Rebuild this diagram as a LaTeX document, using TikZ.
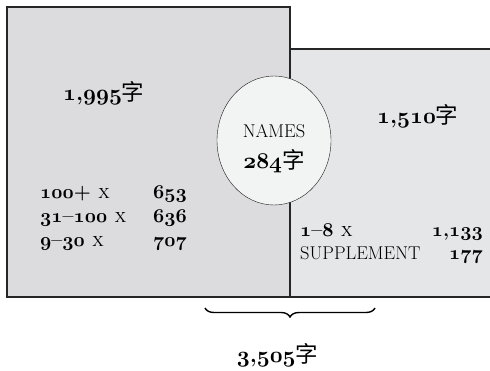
\RequirePackage{fix-cm}
\documentclass[tikz,border=0pt]{standalone}
\usepackage{fontspec}
\newfontfamily\cjk{Noto Sans CJK SC}
\usetikzlibrary{shapes.geometric, decorations.pathreplacing}
\definecolor{commongray}{RGB}{220,220,222}
\definecolor{restgray}{RGB}{229,230,232}
\definecolor{namesgray}{RGB}{242,243,243}
\newcommand\osf[1]{{\usefont{OML}{cmm}{b}{it}#1}}
\newcommand\zi{{\cjk\mdseries 字}}
\newcommand\smcp[1]{{\mdseries\scshape #1}}
\newcommand\caps[1]{{\mdseries\fontsize{18.5}{22}\selectfont #1}}

\begin{document}
\begin{tikzpicture}
  [x=1pt,y=-1pt,
   frame/.style={draw=black!85,line width=1.3pt},
   count/.style={font=\fontsize{22.5}{26}\selectfont\bfseries,inner sep=0pt},
   row/.style={font=\fontsize{19.5}{23}\selectfont\bfseries,inner sep=0pt},
   names/.style={ellipse,draw=black!90,fill=namesgray,thin,
                 inner sep=0pt,minimum width=114pt,minimum height=129pt}]
  \useasboundingbox (0,0) rectangle (490,370);
  % the two blocks
  \fill[restgray] (290,49) rectangle (490,297);
  \draw[frame] (490,49) -- (290,49) (290,297) -- (490,297);
  \filldraw[frame,fill=commongray] (7,7) rectangle (290,297);
  \node[names] (names) at (274,140.5) {};
  \node[count,anchor=base] (names title) at (274,137) {\caps{NAMES}};
  \node[count,anchor=base] (names total) at (274,168) {\osf{284}\zi};
  \node[count,anchor=base west] (common total) at (63,100) {\osf{1},\osf{995}\zi};
  \node[count,anchor=base west] (rest total) at (377,123) {\osf{1},\osf{510}\zi};
  % rows of the left block
  \node[row,anchor=base west] (often label) at (40,198) {\osf{100}+ \smcp{x}};
  \node[row,anchor=base east] (often count) at (187,198) {\osf{653}};
  \node[row,anchor=base west] (middle label) at (40,222) {\osf{31}--\osf{100} \smcp{x}};
  \node[row,anchor=base east] (middle count) at (187,222) {\osf{636}};
  \node[row,anchor=base west] (seldom label) at (40,246) {\osf{9}--\osf{30} \smcp{x}};
  \node[row,anchor=base east] (seldom count) at (187,246) {\osf{707}};
  % rows of the right block
  \node[row,anchor=base west] (rare label) at (300,236) {\osf{1}--\osf{8} \smcp{x}};
  \node[row,anchor=base east] (rare count) at (483,236) {\osf{1},\osf{133}};
  \node[row,anchor=base west] (supplement label) at (300,259) {\caps{SUPPLEMENT}};
  \node[row,anchor=base east] (supplement count) at (483,259) {\osf{177}};
  % the brace under both
  \coordinate (brace start) at (205,308);
  \coordinate (brace end) at (375,308);
  \draw[line width=1.4pt,decorate,decoration={brace,mirror,amplitude=9pt}]
    (brace start) -- (brace end);
  \node[count,anchor=base] (grand total) at (277.5,362) {\osf{3},\osf{505}\zi};
\end{tikzpicture}
\end{document}
